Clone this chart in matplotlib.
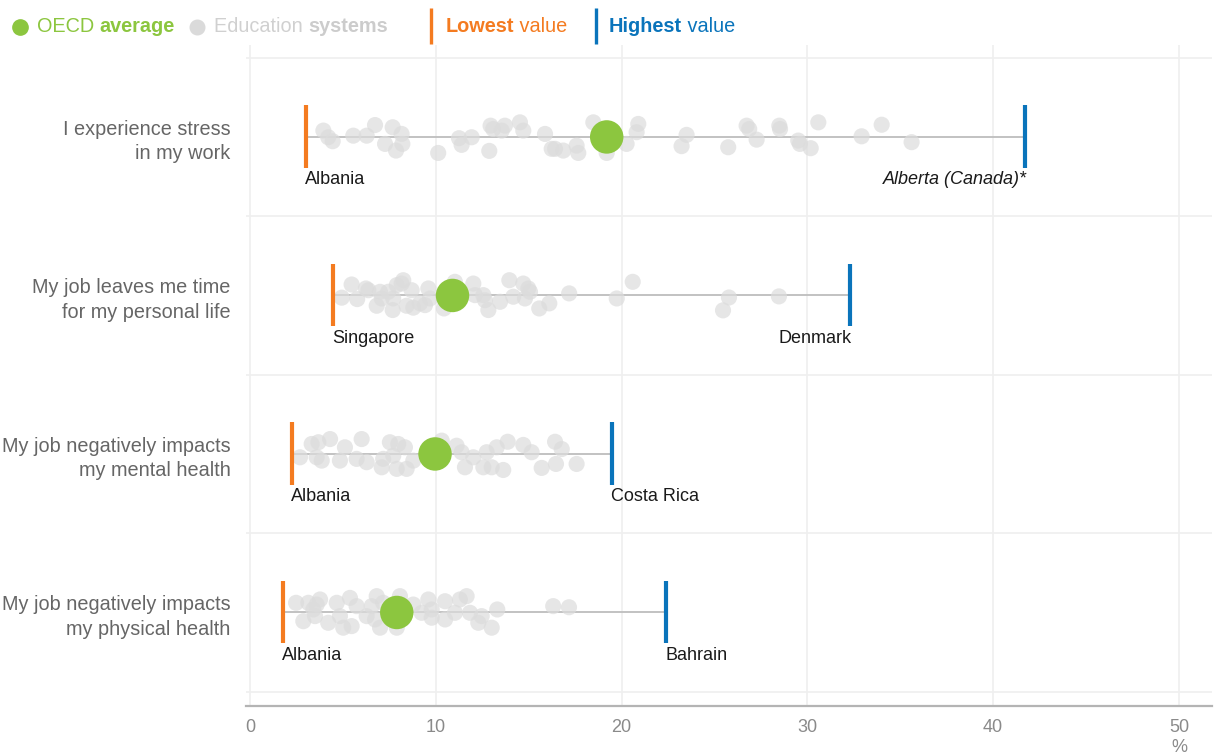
import numpy as np
import matplotlib
matplotlib.use('Agg')
import matplotlib.pyplot as plt
from matplotlib.lines import Line2D

plt.rcParams['font.family'] = ['Liberation Sans', 'DejaVu Sans']

# data
questions = ['I experience stress\nin my work',
             'My job leaves me time\nfor my personal life',
             'My job negatively impacts\nmy mental health',
             'My job negatively impacts\nmy physical health']

oecd_avg = [19.2, 10.9, 9.96, 7.9]
lowest_val = [3.0, 4.47, 2.26, 1.78]
lowest_name = ['Albania', 'Singapore', 'Albania', 'Albania']
highest_val = [41.7, 32.3, 19.5, 22.4]
highest_name = ['Alberta (Canada)*', 'Denmark', 'Costa Rica', 'Bahrain']

systems_0 = [3.95, 4.21, 4.45, 5.56, 6.28, 6.73, 7.27, 7.68, 8.16, 8.20,
             7.86, 10.13, 11.25, 11.39, 11.93, 12.88, 12.95, 13.09, 13.72, 13.55,
             14.53, 14.71, 15.88, 16.24, 16.42, 16.86, 17.58, 17.67, 18.48, 19.20,
             20.27, 20.90, 20.81, 23.50, 23.23, 25.74, 26.73, 26.87, 27.27, 28.49,
             28.53, 29.51, 29.60, 30.18, 30.59, 32.92, 34.00, 35.61]
jitter_0 = [-0.040, 0.002, 0.027, -0.008, -0.008, -0.075, 0.044, -0.061, -0.019, 0.044,
            0.086, 0.101, 0.008, 0.050, 0.002, 0.088, -0.071, -0.050, -0.071, -0.040,
            -0.092, -0.040, -0.019, 0.075, 0.075, 0.086, 0.055, 0.101, -0.092, 0.101,
            0.044, -0.082, -0.030, -0.013, 0.058, 0.065, -0.071, -0.050, 0.017, -0.071,
            -0.050, 0.023, 0.044, 0.071, -0.092, -0.004, -0.077, 0.033]

systems_1 = [4.94, 5.47, 5.77, 6.24, 6.37, 6.82, 7.00, 7.09, 7.44, 7.71,
             7.68, 7.90, 8.25, 8.16, 8.43, 8.70, 8.79, 9.15, 9.42, 9.60,
             9.69, 10.44, 11.03, 12.02, 12.11, 12.56, 12.65, 12.83, 13.46, 13.96,
             14.17, 14.71, 14.80, 14.98, 15.07, 15.57, 16.11, 17.18, 19.74, 20.60,
             25.46, 25.78, 28.47]
jitter_1 = [0.014, -0.069, 0.023, -0.044, -0.033, 0.065, -0.023, 0.019, -0.023, 0.019,
            0.092, -0.065, -0.096, -0.075, 0.065, -0.033, 0.077, 0.050, 0.061, -0.044,
            0.019, 0.082, -0.086, -0.075, -0.002, -0.002, 0.030, 0.092, 0.040, -0.096,
            0.008, -0.075, 0.019, -0.044, -0.023, 0.082, 0.050, -0.013, 0.019, -0.086,
            0.094, 0.013, 0.006]

systems_2 = [2.69, 3.32, 3.68, 3.59, 3.86, 4.31, 4.84, 5.11, 5.74, 6.01,
             6.28, 7.09, 7.17, 7.53, 7.71, 7.90, 7.98, 8.34, 8.43, 8.79,
             10.32, 11.12, 11.39, 11.57, 12.02, 12.56, 12.74, 13.01, 13.28, 13.63,
             13.87, 14.71, 15.16, 15.70, 16.42, 16.78, 16.47, 17.58]
jitter_2 = [0.021, -0.063, -0.074, 0.021, 0.042, -0.094, 0.042, -0.042, 0.031, -0.094,
            0.052, 0.084, 0.031, -0.074, 0.011, 0.094, -0.063, -0.042, 0.094, 0.042,
            -0.084, -0.052, -0.011, 0.084, 0.021, 0.084, -0.011, 0.084, -0.042, 0.101,
            -0.077, -0.057, -0.011, 0.088, -0.077, -0.031, 0.063, 0.063]

systems_3 = [2.48, 2.87, 3.14, 3.41, 3.77, 3.59, 3.50, 4.21, 4.67, 4.84,
             5.02, 5.38, 5.47, 5.74, 6.28, 6.55, 6.82, 7.00, 6.73, 7.17,
             7.90, 8.07, 8.79, 9.24, 9.60, 9.78, 9.78, 10.50, 10.50, 11.03,
             11.30, 11.66, 11.84, 12.29, 12.47, 13.01, 13.31, 16.32, 17.17]
jitter_3 = [-0.061, 0.055, -0.061, -0.019, -0.082, -0.050, 0.023, 0.065, -0.061, 0.023,
            0.096, -0.092, 0.086, -0.040, 0.023, -0.040, -0.103, 0.096, 0.044, -0.061,
            0.096, -0.103, -0.050, 0.002, -0.082, -0.019, 0.033, -0.071, 0.044, 0.002,
            -0.082, -0.103, 0.002, 0.065, 0.023, 0.096, -0.019, -0.040, -0.033]

systems = [systems_0, systems_1, systems_2, systems_3]
jitters = [jitter_0, jitter_1, jitter_2, jitter_3]

xticks = [0, 10, 20, 30, 40, 50]

GREEN = '#8cc63f'
ORANGE = '#f47b20'
BLUE = '#0a74bb'
DOT = '#dcdcdc'

fig = plt.figure(figsize=(12.14, 7.54), dpi=100)
ax = fig.add_axes([246 / 1214, 1 - 706 / 754, (1212 - 246) / 1214, (706 - 45) / 754])
ax.set_xlim(-0.215, 51.78)
ax.set_ylim(3.59, -0.58)

for s in ['top', 'right', 'left']:
    ax.spines[s].set_visible(False)
ax.spines['bottom'].set_color('#b4b4b4')
ax.spines['bottom'].set_linewidth(1.6)

for xv in xticks:
    ax.axvline(xv, color='#efefef', lw=1.2, zorder=0)
for yv in [-0.5, 0.5, 1.5, 2.5, 3.5]:
    ax.axhline(yv, color='#efefef', lw=1.2, zorder=0)

max_ha = ['right', 'right', 'left', 'left']
max_style = ['italic', 'normal', 'normal', 'normal']

for i in range(len(questions)):
    ax.plot([lowest_val[i], highest_val[i]], [i, i], color='#bdbdbd', lw=1.3, zorder=1)
    ax.scatter(systems[i], np.array(jitters[i]) + i, s=135, color=DOT, alpha=0.7,
               edgecolors='none', zorder=2)
    ax.scatter([oecd_avg[i]], [i], s=580, color=GREEN, edgecolors='none', zorder=4)
    ax.plot([lowest_val[i]] * 2, [i - 0.2, i + 0.195], color=ORANGE, lw=3, zorder=5,
            solid_capstyle='butt')
    ax.plot([highest_val[i]] * 2, [i - 0.2, i + 0.195], color=BLUE, lw=3, zorder=5,
            solid_capstyle='butt')
    ax.text(lowest_val[i] - 0.05, i + 0.215, lowest_name[i], ha='left', va='top',
            fontsize=13, color='#1a1a1a')
    ax.text(highest_val[i] + (0.1 if max_ha[i] == 'right' else -0.05), i + 0.215,
            highest_name[i], ha=max_ha[i], va='top', fontsize=13, color='#1a1a1a',
            style=max_style[i])

ax.set_xticks(xticks)
ax.set_xticklabels([str(v) for v in xticks])
ax.tick_params(axis='x', length=0, pad=9, labelsize=13, labelcolor='#8a8a8a')
ax.set_yticks(range(len(questions)))
ax.set_yticklabels(questions)
ax.tick_params(axis='y', length=0, pad=11, labelsize=14.3, labelcolor='#666666')
for lab in ax.get_yticklabels():
    lab.set_linespacing(1.35)
fig.text(1179 / 1214, 1 - 747 / 754, '%', ha='center', va='center', fontsize=13,
         color='#8a8a8a')

# legend at top
renderer = fig.canvas.get_renderer()
ly = 1 - 27 / 754


def put(xpx, txt, color, weight='normal'):
    t = fig.text(xpx / 1214, ly, txt, color=color, fontsize=14.3, fontweight=weight,
                 ha='left', va='center')
    bb = t.get_window_extent(renderer=renderer)
    return bb.x1


fig.add_artist(Line2D([20 / 1214], [ly], marker='o', markersize=11, color=GREEN,
                      transform=fig.transFigure))
xe = put(37, 'OECD ', GREEN)
put(xe, 'average', GREEN, 'bold')
fig.add_artist(Line2D([197 / 1214], [ly], marker='o', markersize=10.5, color='#dadada',
                      transform=fig.transFigure))
xe = put(214, 'Education ', '#d0d0d0')
put(xe, 'systems', '#cccccc', 'bold')
fig.add_artist(Line2D([431 / 1214] * 2, [1 - 8 / 754, 1 - 44 / 754], lw=2.4, color=ORANGE,
                      transform=fig.transFigure, solid_capstyle='butt'))
xe = put(446, 'Lowest', ORANGE, 'bold')
put(xe, ' value', ORANGE)
fig.add_artist(Line2D([596 / 1214] * 2, [1 - 8 / 754, 1 - 44 / 754], lw=2.4, color=BLUE,
                      transform=fig.transFigure, solid_capstyle='butt'))
xe = put(609, 'Highest', BLUE, 'bold')
put(xe, ' value', BLUE)

fig.savefig('out.png', dpi=100)
